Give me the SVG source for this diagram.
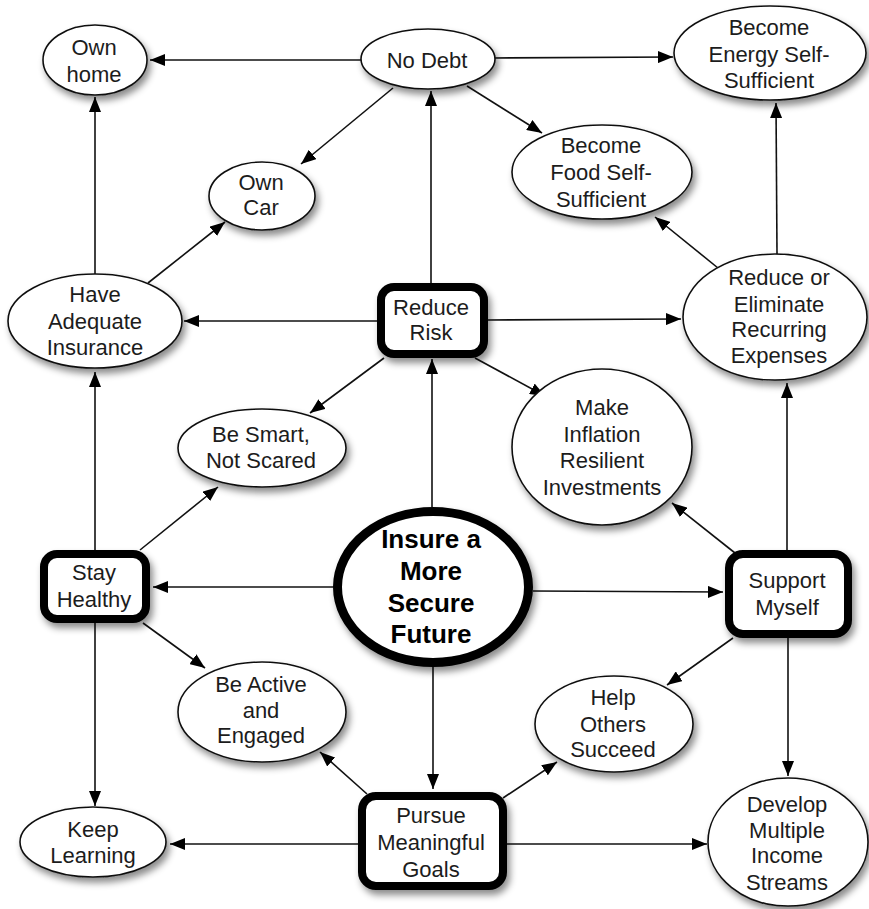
<svg xmlns="http://www.w3.org/2000/svg" width="869" height="909" viewBox="0 0 869 909">
<style>
.e{fill:#fff;stroke:#111;stroke-width:1.6;filter:url(#sh)}
.r{fill:#fff;stroke:#000;stroke-width:8;filter:url(#sh)}
.c{fill:#fff;stroke:#000;stroke-width:9;filter:url(#sh)}
text{font-family:"Liberation Sans",Arial,sans-serif;font-size:22px;fill:#1c1c1c;text-anchor:middle}
.b{font-weight:bold;font-size:26px;fill:#000}
#edges line{stroke:#111;stroke-width:1.6;marker-end:url(#ah)}
</style>
<defs>
<filter id="sh" x="-20%" y="-20%" width="150%" height="150%">
<feDropShadow dx="3" dy="5" stdDeviation="3.5" flood-color="#000" flood-opacity="0.45"/>
</filter>
<marker id="ah" markerUnits="userSpaceOnUse" markerWidth="16" markerHeight="12" refX="15" refY="6" orient="auto">
<path d="M0,0 L15,6 L0,12 Z" fill="#000"/>
</marker>
</defs>
<rect width="869" height="909" fill="#fff"/>
<g id="edges">
<line x1="361" y1="60" x2="150" y2="60"/>
<line x1="494" y1="58" x2="673" y2="57"/>
<line x1="393" y1="88" x2="301" y2="164"/>
<line x1="467" y1="86" x2="542" y2="133"/>
<line x1="431" y1="283" x2="431" y2="91"/>
<line x1="377" y1="321" x2="184" y2="321"/>
<line x1="488" y1="320" x2="681" y2="319"/>
<line x1="384" y1="358" x2="310" y2="413"/>
<line x1="475" y1="358" x2="545" y2="396"/>
<line x1="432" y1="507" x2="432" y2="359"/>
<line x1="95" y1="274" x2="95" y2="97"/>
<line x1="148" y1="283" x2="225" y2="222"/>
<line x1="718" y1="268" x2="655" y2="217"/>
<line x1="777" y1="254" x2="776" y2="103"/>
<line x1="787" y1="550" x2="787" y2="383"/>
<line x1="735" y1="553" x2="672" y2="503"/>
<line x1="533" y1="591" x2="723" y2="592"/>
<line x1="333" y1="587" x2="153" y2="587"/>
<line x1="95" y1="550" x2="95" y2="372"/>
<line x1="140" y1="550" x2="218" y2="487"/>
<line x1="143" y1="623" x2="205" y2="668"/>
<line x1="95" y1="623" x2="95" y2="806"/>
<line x1="433" y1="667" x2="433" y2="789"/>
<line x1="367" y1="794" x2="320" y2="752"/>
<line x1="358" y1="844" x2="170" y2="844"/>
<line x1="503" y1="798" x2="557" y2="762"/>
<line x1="507" y1="844" x2="707" y2="844"/>
<line x1="733" y1="638" x2="667" y2="685"/>
<line x1="788" y1="638" x2="788" y2="776"/>
</g>
<g id="own-home"><ellipse class="e" cx="95" cy="60" rx="52" ry="35"/><text x="94" y="55">Own</text><text x="94" y="82">home</text></g>
<g id="no-debt"><ellipse class="e" cx="428" cy="59" rx="67" ry="30"/><text x="427" y="68">No Debt</text></g>
<g id="energy"><ellipse class="e" cx="770" cy="53" rx="96" ry="47"/><text x="769" y="35">Become</text><text x="769" y="62">Energy Self-</text><text x="769" y="88">Sufficient</text></g>
<g id="food"><ellipse class="e" cx="602" cy="172" rx="90" ry="47"/><text x="601" y="153">Become</text><text x="601" y="180">Food Self-</text><text x="601" y="207">Sufficient</text></g>
<g id="own-car"><ellipse class="e" cx="262" cy="196" rx="53" ry="34"/><text x="261" y="190">Own</text><text x="261" y="215">Car</text></g>
<g id="insurance"><ellipse class="e" cx="95" cy="321" rx="87" ry="47"/><text x="95" y="302">Have</text><text x="95" y="329">Adequate</text><text x="95" y="355">Insurance</text></g>
<g id="reduce-risk"><rect class="r" x="381" y="287" width="103" height="67" rx="13"/><text x="431" y="315">Reduce</text><text x="431" y="340">Risk</text></g>
<g id="reduce-expenses"><ellipse class="e" cx="775" cy="317" rx="92" ry="63"/><text x="779" y="285">Reduce or</text><text x="779" y="312">Eliminate</text><text x="779" y="337">Recurring</text><text x="779" y="363">Expenses</text></g>
<g id="be-smart"><ellipse class="e" cx="262" cy="448" rx="84" ry="39"/><text x="261" y="442">Be Smart,</text><text x="261" y="468">Not Scared</text></g>
<g id="inflation"><ellipse class="e" cx="602" cy="447" rx="90" ry="78"/><text x="602" y="415">Make</text><text x="602" y="442">Inflation</text><text x="602" y="468">Resilient</text><text x="602" y="495">Investments</text></g>
<g id="stay-healthy"><rect class="r" x="44" y="554" width="102" height="65" rx="13"/><text x="94" y="580">Stay</text><text x="94" y="607">Healthy</text></g>
<g id="insure"><ellipse class="c" cx="433" cy="587" rx="95.5" ry="75.5"/><text class="b" x="431" y="548">Insure a</text><text class="b" x="431" y="580">More</text><text class="b" x="431" y="612">Secure</text><text class="b" x="431" y="643">Future</text></g>
<g id="support-myself"><rect class="r" x="729" y="554" width="119" height="80" rx="14"/><text x="787" y="588">Support</text><text x="787" y="615">Myself</text></g>
<g id="be-active"><ellipse class="e" cx="262" cy="712" rx="84" ry="50"/><text x="261" y="692">Be Active</text><text x="261" y="718">and</text><text x="261" y="743">Engaged</text></g>
<g id="help-others"><ellipse class="e" cx="614" cy="724" rx="79" ry="48"/><text x="613" y="705">Help</text><text x="613" y="732">Others</text><text x="613" y="757">Succeed</text></g>
<g id="keep-learning"><ellipse class="e" cx="93" cy="842" rx="73" ry="35"/><text x="93" y="837">Keep</text><text x="93" y="863">Learning</text></g>
<g id="pursue"><rect class="r" x="362" y="796" width="141" height="90" rx="14"/><text x="431" y="823">Pursue</text><text x="431" y="850">Meaningful</text><text x="431" y="877">Goals</text></g>
<g id="develop"><ellipse class="e" cx="788" cy="842" rx="80" ry="64"/><text x="787" y="812">Develop</text><text x="787" y="838">Multiple</text><text x="787" y="863">Income</text><text x="787" y="890">Streams</text></g>
</svg>
